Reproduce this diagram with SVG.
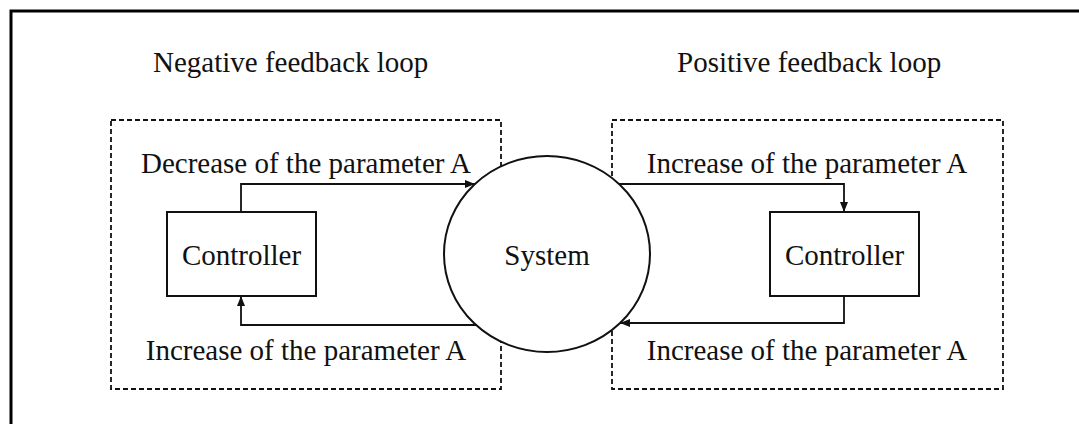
<svg xmlns="http://www.w3.org/2000/svg" width="1079" height="424" viewBox="0 0 1079 424">
  <style>
    text { font-family: "Liberation Serif", "Times New Roman", serif; font-size: 29px; fill: #111; }
    .mid { text-anchor: middle; }
    .frame { fill: none; stroke: #000; stroke-width: 3; }
    .loop { fill: none; stroke: #111; stroke-width: 1.8; stroke-dasharray: 5 3; }
    .node { fill: #fff; stroke: #111; stroke-width: 2; }
    .wire { fill: none; stroke: #111; stroke-width: 1.8; }
  </style>
  <defs>
    <marker id="arrow" viewBox="0 0 10 8" refX="10" refY="4" markerWidth="10" markerHeight="8" markerUnits="userSpaceOnUse" orient="auto">
      <path d="M0,0 L10,4 L0,8 Z" fill="#111"/>
    </marker>
  </defs>

  <rect width="1079" height="424" fill="#fff"/>

  <!-- outer frame, open towards the right and bottom -->
  <path class="frame" d="M11,430 V11 H1090"/>

  <!-- loop titles -->
  <text x="153" y="72">Negative feedback loop</text>
  <text x="677" y="72">Positive feedback loop</text>

  <!-- dashed loop regions -->
  <g id="negative-loop">
    <rect class="loop" x="111" y="120" width="390" height="269"/>
  </g>
  <g id="positive-loop">
    <rect class="loop" x="612" y="120" width="391" height="269"/>
  </g>

  <!-- central system -->
  <g id="system">
    <ellipse class="node" cx="547" cy="254" rx="103" ry="98"/>
    <text class="mid" x="547" y="265">System</text>
  </g>

  <!-- connectors -->
  <g id="connectors">
    <path class="wire" d="M241,212 V184 H475" marker-end="url(#arrow)"/>
    <path class="wire" d="M476,325 H241 V296" marker-end="url(#arrow)"/>
    <path class="wire" d="M619,184 H844 V212" marker-end="url(#arrow)"/>
    <path class="wire" d="M844,296 V323 H620" marker-end="url(#arrow)"/>
  </g>

  <!-- connector labels -->
  <g id="labels">
    <text class="mid" x="306" y="173">Decrease of the parameter A</text>
    <text class="mid" x="306" y="360">Increase of the parameter A</text>
    <text class="mid" x="807" y="173">Increase of the parameter A</text>
    <text class="mid" x="807" y="360">Increase of the parameter A</text>
  </g>

  <!-- controllers -->
  <g id="controller-negative">
    <rect class="node" x="167" y="212" width="149" height="84"/>
    <text class="mid" x="241.5" y="265">Controller</text>
  </g>
  <g id="controller-positive">
    <rect class="node" x="770" y="212" width="149" height="84"/>
    <text class="mid" x="844.5" y="265">Controller</text>
  </g>
</svg>
